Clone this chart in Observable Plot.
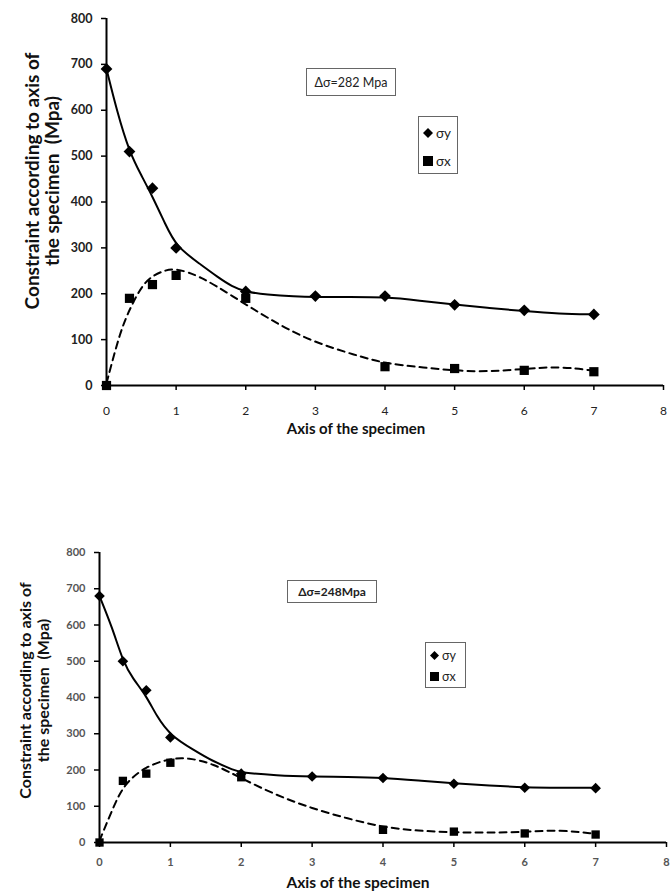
<!DOCTYPE html>
<html><head><meta charset="utf-8">
<script src="https://cdn.jsdelivr.net/npm/d3@7"></script>
<script src="https://cdn.jsdelivr.net/npm/@observablehq/plot@0.6"></script>
<style>
body{margin:0;background:#fff;}
#wrap{position:relative;width:670px;height:895px;overflow:hidden;font-family:Lato,"Open Sans",sans-serif;background:#fff;}
.chart{position:absolute;left:0;}
.note{position:absolute;box-sizing:border-box;border:1.5px solid #666;background:#fff;display:flex;align-items:center;justify-content:center;color:#222;white-space:nowrap;}
.leg{position:absolute;box-sizing:border-box;border:1.5px solid #666;background:#fff;color:#222;}
.leg div{position:absolute;left:4px;display:flex;align-items:center;gap:3px;white-space:nowrap;}
</style>
</head><body><div id="wrap"></div>
<script>
// ---- shared ticks / labels ----
const xTicks = [0, 1, 2, 3, 4, 5, 6, 7, 8];
const yTicks = [0, 100, 200, 300, 400, 500, 600, 700, 800];
const xTitle = "Axis of the specimen";
const yTitle = "Constraint according to axis of\nthe specimen\u00a0 (Mpa)";
const seriesNames = ["σy", "σx"];

// ---- chart A (Δσ = 282 Mpa) ----
const noteA = "Δσ=282 Mpa";
const posYA = [0, 0.33, 0.66, 1, 2, 3, 4, 5, 6, 7];
const sigmaYA = [690, 510, 430, 300, 205, 195, 195, 176, 164, 155];
const posXA = [0, 0.33, 0.66, 1, 2, 4, 5, 6, 7];
const sigmaXA = [0, 190, 220, 240, 190, 41, 37, 33, 30];
// smoothed curves as drawn in the figure
const fitYPosA = [0, 0.15, 0.33, 0.5, 0.66, 0.85, 1, 1.35, 1.6, 1.8, 2, 2.3, 2.7, 3, 3.5, 4, 4.5, 5, 5.5, 6, 6.5, 7];
const fitYA    = [690, 598, 508, 458, 412, 350, 303, 264, 236, 216, 204, 198, 194, 193, 193, 193, 185, 176, 169, 162, 156, 155];
const fitXPosA = [0, 0.2, 0.35, 0.55, 0.8, 1, 1.35, 1.8, 2.3, 2.9, 3.6, 4, 4.5, 5.3, 6, 6.5, 7];
const fitXA    = [5, 120, 172, 230, 250, 256, 238, 196, 148, 98, 65, 48, 40, 28, 36, 42, 32];

// ---- chart B (Δσ = 248 Mpa) ----
const noteB = "Δσ=248Mpa";
const posYB = [0, 0.33, 0.66, 1, 2, 3, 4, 5, 6, 7];
const sigmaYB = [680, 500, 420, 290, 190, 182, 178, 162, 151, 150];
const posXB = [0, 0.33, 0.66, 1, 2, 4, 5, 6, 7];
const sigmaXB = [0, 170, 190, 220, 180, 35, 30, 25, 22];
const fitYPosB = [0, 0.18, 0.33, 0.47, 0.66, 0.81, 1, 1.34, 1.58, 1.9, 2, 2.5, 3, 3.5, 4, 4.5, 5, 5.5, 6, 6.5, 7];
const fitYB    = [680, 593, 500, 452, 405, 347, 295, 254, 226, 199, 193, 185, 182, 181, 179, 171, 163, 157, 152, 151, 151];
const fitXPosB = [0, 0.2, 0.35, 0.65, 1, 1.25, 1.6, 2, 2.5, 3, 3.5, 4, 4.5, 5, 5.5, 6, 6.5, 7];
const fitXB    = [5, 100, 162, 210, 232, 234, 218, 177, 130, 94, 66, 42, 32, 28, 27, 29, 35, 24];

const toRows = (xs, ys) => xs.map((x, i) => ({x, y: ys[i]}));

function chart(o) {
  const sy = toRows(o.posY, o.sigY);
  const sx = toRows(o.posX, o.sigX);
  const fy = toRows(o.fitYPos, o.fitY);
  const fx = toRows(o.fitXPos, o.fitX);
  return Plot.plot({
    width: 670, height: o.height,
    marginLeft: o.ml, marginRight: o.mr, marginTop: o.mt, marginBottom: o.mb,
    x: {domain: [0, 8]},
    y: {domain: [0, 800]},
    style: {fontFamily: "Lato, 'Open Sans', sans-serif", background: "#fff", overflow: "visible"},
    marks: [
      Plot.axisY(yTicks, {tickSize: 5, tickPadding: o.ytp, fontSize: o.yfs, fontWeight: "bold", fill: o.tickColor, stroke: "#000", strokeWidth: 1.5, label: null}),
      Plot.axisX(xTicks, {tickSize: 5, tickPadding: o.xtp, fontSize: o.xfs, fontWeight: o.xfw, fill: o.tickColor, stroke: "#000", strokeWidth: 1.5, label: null}),
      Plot.ruleX([0], {stroke: "#000", strokeWidth: 2}),
      Plot.ruleY([0], {stroke: "#000", strokeWidth: 2}),
      Plot.line(fx, {x: "x", y: "y", curve: "basis", stroke: "#000", strokeWidth: 2, strokeDasharray: "7,5"}),
      Plot.line(fy, {x: "x", y: "y", curve: "basis", stroke: "#000", strokeWidth: 2}),
      Plot.dot(sy, {x: "x", y: "y", symbol: "diamond2", fill: "#000", stroke: "none", r: o.rDia}),
      Plot.dot(sx, {x: "x", y: "y", symbol: "square", fill: "#000", stroke: "none", r: o.rSq}),
      Plot.text([xTitle], {frameAnchor: "bottom", textAnchor: "middle", dx: o.xtdx, dy: o.xtdy, fontSize: o.xtfs, fontWeight: "bold", fill: "#111"}),
      Plot.text([yTitle], {frameAnchor: "left", textAnchor: "middle", lineAnchor: "middle", rotate: -90, dx: o.ytdx, dy: o.ytdy, fontSize: o.ytfs, lineHeight: o.ytlh, fontWeight: "bold", fill: "#111"})
    ]
  });
}

const wrap = document.getElementById("wrap");

const A = chart({height: 445, ml: 106, mr: 7, mt: 18, mb: 60,
  posY: posYA, sigY: sigmaYA, posX: posXA, sigX: sigmaXA,
  fitYPos: fitYPosA, fitY: fitYA, fitXPos: fitXPosA, fitX: fitXA,
  ytp: 9, yfs: 12.5, xtp: 16, xfs: 12, xfw: "normal", tickColor: "#222", rDia: 5.3, rSq: 5.2,
  xtdx: -29, xtdy: 48, xtfs: 15, ytdx: -64, ytdy: -21, ytfs: 19, ytlh: 1.05});
A.classList.add("chart"); A.style.top = "0px";
wrap.appendChild(A);

const B = chart({height: 365, ml: 99, mr: 4, mt: 22, mb: 53,
  posY: posYB, sigY: sigmaYB, posX: posXB, sigX: sigmaXB,
  fitYPos: fitYPosB, fitY: fitYB, fitXPos: fitXPosB, fitX: fitXB,
  ytp: 9, yfs: 11, xtp: 11, xfs: 11, xfw: "bold", tickColor: "#555", rDia: 4.8, rSq: 4.7,
  xtdx: -25, xtdy: 45, xtfs: 15.5, ytdx: -65, ytdy: -7, ytfs: 16, ytlh: 1.12});
B.classList.add("chart"); B.style.top = "530px";
wrap.appendChild(B);

// ---- annotation boxes and legends ----
function note(text, l, t, w, h, fs, fw) {
  const d = document.createElement("div");
  d.className = "note";
  Object.assign(d.style, {left: l + "px", top: t + "px", width: w + "px", height: h + "px", fontSize: fs + "px", fontWeight: fw});
  d.textContent = text;
  wrap.appendChild(d);
}
const diaSvg = s => `<svg width="${s}" height="${s}" viewBox="0 0 10 10"><polygon points="5,0 10,5 5,10 0,5" fill="#000"/></svg>`;
const sqSvg = s => `<svg width="${s}" height="${s}" viewBox="0 0 10 10"><rect x="0" y="0" width="10" height="10" fill="#000"/></svg>`;
function legend(l, t, w, h, fs, s, y1, y2) {
  const d = document.createElement("div");
  d.className = "leg";
  Object.assign(d.style, {left: l + "px", top: t + "px", width: w + "px", height: h + "px", fontSize: fs + "px"});
  d.innerHTML = `<div style="top:${y1}px">${diaSvg(s)}<span>${seriesNames[0]}</span></div>` +
                `<div style="top:${y2}px">${sqSvg(s)}<span>${seriesNames[1]}</span></div>`;
  wrap.appendChild(d);
}
note(noteA, 306, 68, 90, 28, 12.5, "normal");
legend(418, 116, 40, 58, 13.5, 10, 8, 36);
note(noteB, 287, 580, 90, 23, 12, "bold");
legend(425, 642, 41, 46, 12.5, 9, 5, 26);
</script>
</body></html>
